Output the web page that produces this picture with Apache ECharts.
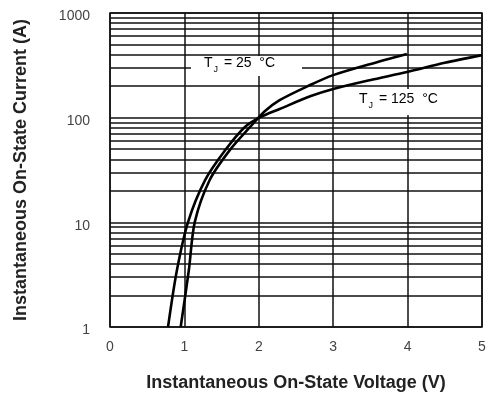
<!DOCTYPE html>
<html>
<head>
<meta charset="utf-8">
<script src="https://cdn.jsdelivr.net/npm/echarts@6/dist/echarts.min.js"></script>
<style>
html,body{margin:0;padding:0;background:#fff;}
#chart{width:489px;height:396px;}
</style>
</head>
<body>
<div id="chart"></div>
<script>
// Data
const volt25  = [0.95, 1.06, 1.14, 1.34, 1.61, 1.88, 2.08, 2.28, 2.69, 3.00, 3.49, 3.99];
const curr25  = [1, 3.5, 10.1, 25.4, 49, 81, 115, 147, 205, 255, 324, 406];
const volt125 = [0.78, 0.90, 1.05, 1.28, 1.55, 1.81, 2.02, 2.28, 2.69, 3.00, 3.49, 3.99, 4.50, 5.00];
const curr125 = [1, 3.5, 10.1, 25.4, 49, 81, 101, 121, 160, 188, 228, 273, 334, 396];
const yMinorLines = [2,3,4,5,6,7,8,9,20,30,40,50,60,70,80,90,200,300,400,500,600,700,800,900];

const zip = (a,b) => a.map((v,i)=>[v,b[i]]);
const chart = echarts.init(document.getElementById('chart'));
const lineCol = '#111';
const richLabel = {
  a:{fontFamily:'Liberation Sans',fontSize:14,color:'#222',lineHeight:18,verticalAlign:'top'},
  s:{fontFamily:'Liberation Sans',fontSize:9,color:'#222',lineHeight:18,padding:[9,2,0,1],verticalAlign:'top'}
};
chart.setOption({
  animation:false,
  backgroundColor:'#fff',
  grid:{left:110,right:7,top:13,bottom:69,show:true,borderColor:lineCol,borderWidth:1.5,
        backgroundColor:'transparent',containLabel:false,outerBoundsMode:'none'},
  xAxis:{
    type:'value',min:0,max:5,interval:1,
    name:'Instantaneous On-State Voltage (V)',nameLocation:'middle',nameGap:47,
    nameTextStyle:{fontFamily:'Liberation Sans',fontWeight:'bold',fontSize:18,color:'#222'},
    axisLine:{show:false},axisTick:{show:false},
    axisLabel:{fontFamily:'Liberation Sans',fontSize:14,color:'#444',margin:13},
    splitLine:{show:true,lineStyle:{color:lineCol,width:1.5}}
  },
  yAxis:{
    type:'log',logBase:10,min:1,max:1000,
    name:'Instantaneous On-State Current (A)',nameLocation:'middle',nameGap:80,
    nameTextStyle:{fontFamily:'Liberation Sans',fontWeight:'bold',fontSize:18,color:'#222'},
    axisLine:{show:false},axisTick:{show:false},
    axisLabel:{margin:20,
      formatter:v=>'{v|'+Math.round(v)+'}',
      rich:{v:{fontFamily:'Liberation Sans',fontSize:14,color:'#444',padding:[7,0,0,0]}}},
    splitLine:{show:true,lineStyle:{color:lineCol,width:1.5}}
  },
  series:[
    {type:'line',name:'grid',data:[],silent:true,
     markLine:{silent:true,symbol:['none','none'],label:{show:false},
       lineStyle:{color:lineCol,width:1.5,type:'solid'},
       data:yMinorLines.map(v=>({yAxis:v}))}},
    {type:'line',name:'25',data:zip(volt25,curr25),smooth:0.3,showSymbol:false,
     lineStyle:{color:'#000',width:2.6},z:5},
    {type:'line',name:'125',data:zip(volt125,curr125),smooth:0.3,showSymbol:false,
     lineStyle:{color:'#000',width:2.6},z:5}
  ],
  graphic:[
    {type:'rect',shape:{x:191,y:56,width:111,height:20},style:{fill:'#fff'},z:10},
    {type:'text',x:204,y:56,z:11,style:{text:'{a|T}{s|J}{a| = 25  °C}',rich:richLabel}},
    {type:'rect',shape:{x:351,y:89,width:107,height:26},style:{fill:'#fff'},z:10},
    {type:'text',x:359,y:92,z:11,style:{text:'{a|T}{s|J}{a| = 125  °C}',rich:richLabel}}
  ]
});
</script>
</body>
</html>
